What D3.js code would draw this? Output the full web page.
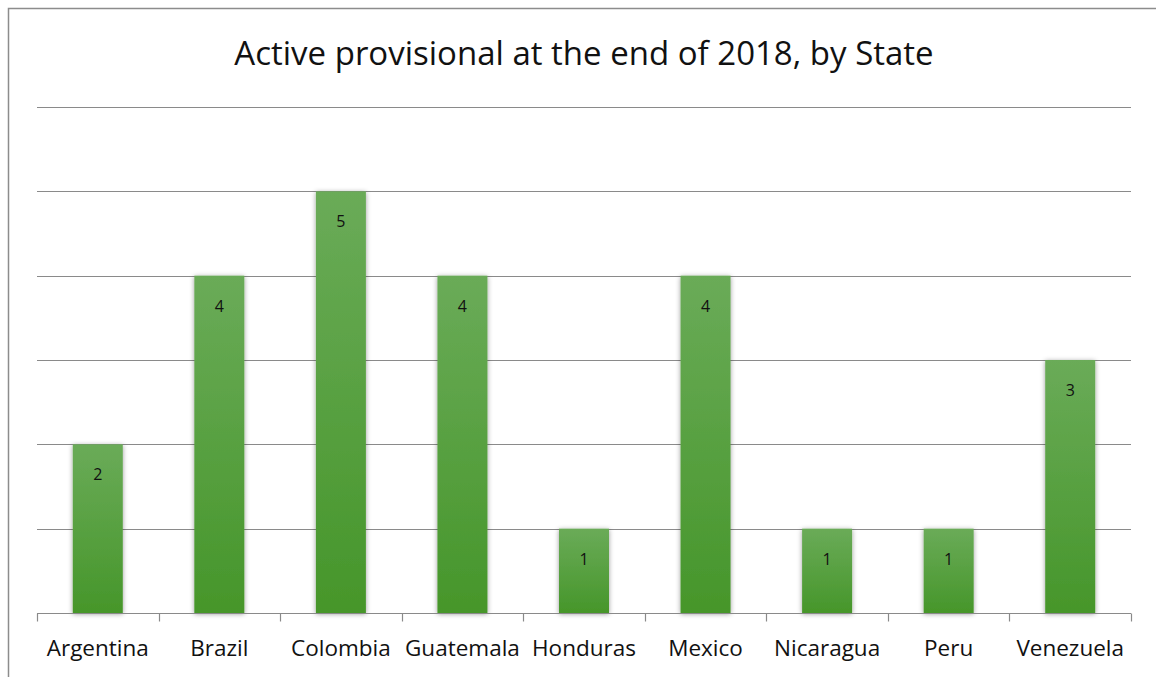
<!DOCTYPE html>
<html>
<head>
<meta charset="utf-8">
<script src="https://cdn.jsdelivr.net/npm/d3@7"></script>
<style>
  html, body { margin: 0; padding: 0; background: #fff; }
  svg { display: block; }
</style>
</head>
<body>
<svg id="chart" width="1156" height="677"></svg>
<script>
// Active provisional measures per State, end of 2018
const states = ["Argentina", "Brazil", "Colombia", "Guatemala", "Honduras", "Mexico", "Nicaragua", "Peru", "Venezuela"];
const counts = [2, 4, 5, 4, 1, 4, 1, 1, 3];
const gridTicks = [0, 1, 2, 3, 4, 5, 6];
const titleText = "Active provisional at the end of 2018, by State";

const W = 1156, H = 677;
const margin = { left: 37, right: 25, top: 107, bottom: 64 };
const svg = d3.select("#chart");
const font = "'Open Sans', 'Noto Sans', sans-serif";

// Outer frame (only top and left edges fall inside the canvas)
svg.append("path")
  .attr("d", `M8.5,${H} V8.5 H${W}`)
  .attr("fill", "none")
  .attr("stroke", "#8c8c8c")
  .attr("stroke-width", 1.5);

const x = d3.scaleBand()
  .domain(states)
  .range([margin.left, W - margin.right])
  .paddingInner(0)
  .paddingOuter(0);

const y = d3.scaleLinear()
  .domain([0, 6])
  .range([H - margin.bottom, margin.top]);

// Gradient fill for bars
const defs = svg.append("defs");
const grad = defs.append("linearGradient")
  .attr("id", "barGrad")
  .attr("x1", 0).attr("y1", 0).attr("x2", 0).attr("y2", 1);
grad.append("stop").attr("offset", "0%").attr("stop-color", "#6aab58");
grad.append("stop").attr("offset", "100%").attr("stop-color", "#46962a");

const shadow = defs.append("filter")
  .attr("id", "barShadow")
  .attr("x", "-30%").attr("y", "-10%").attr("width", "160%").attr("height", "120%");
shadow.append("feDropShadow")
  .attr("dx", 0).attr("dy", 1)
  .attr("stdDeviation", 2.4)
  .attr("flood-color", "#000")
  .attr("flood-opacity", 0.4);

// Horizontal gridlines
svg.append("g")
  .selectAll("line")
  .data(gridTicks.filter(d => d > 0))
  .join("line")
  .attr("x1", margin.left)
  .attr("x2", W - margin.right)
  .attr("y1", d => Math.round(y(d)) + 0.5)
  .attr("y2", d => Math.round(y(d)) + 0.5)
  .attr("stroke", "#8a8a8a")
  .attr("stroke-width", 1.2);

// Bars
const barW = 50;
svg.append("g")
  .selectAll("rect")
  .data(states)
  .join("rect")
  .attr("x", (d) => x(d) + x.bandwidth() / 2 - barW / 2)
  .attr("y", (d, i) => y(counts[i]))
  .attr("width", barW)
  .attr("height", (d, i) => y(0) - y(counts[i]))
  .attr("fill", "url(#barGrad)")
  .attr("filter", "url(#barShadow)");

// Value labels inside bars
svg.append("g")
  .selectAll("text")
  .data(states)
  .join("text")
  .attr("x", d => x(d) + x.bandwidth() / 2)
  .attr("y", (d, i) => y(counts[i]) + 36)
  .attr("text-anchor", "middle")
  .attr("font-family", font)
  .attr("font-size", 16)
  .attr("fill", "#111")
  .text((d, i) => counts[i]);

// Category axis with boundary tick marks
const axisY = Math.round(y(0)) + 0.5;
const axisG = svg.append("g");
axisG.append("line")
  .attr("x1", margin.left).attr("x2", W - margin.right)
  .attr("y1", axisY).attr("y2", axisY)
  .attr("stroke", "#8a8a8a").attr("stroke-width", 1.2);

const boundaries = states.map(d => x(d)).concat([x(states[states.length - 1]) + x.bandwidth()]);
axisG.selectAll("line.tick")
  .data(boundaries)
  .join("line")
  .attr("class", "tick")
  .attr("x1", d => Math.round(d) + 0.5)
  .attr("x2", d => Math.round(d) + 0.5)
  .attr("y1", axisY)
  .attr("y2", axisY + 8)
  .attr("stroke", "#8a8a8a").attr("stroke-width", 1.2);

axisG.selectAll("text")
  .data(states)
  .join("text")
  .attr("x", d => x(d) + x.bandwidth() / 2)
  .attr("y", 656)
  .attr("text-anchor", "middle")
  .attr("font-family", font)
  .attr("font-size", 22.5)
  .attr("fill", "#111")
  .text(d => d);

// Title
svg.append("text")
  .attr("x", 584)
  .attr("y", 65)
  .attr("text-anchor", "middle")
  .attr("font-family", font)
  .attr("font-size", 33)
  .attr("fill", "#111")
  .text(titleText);
</script>
</body>
</html>
